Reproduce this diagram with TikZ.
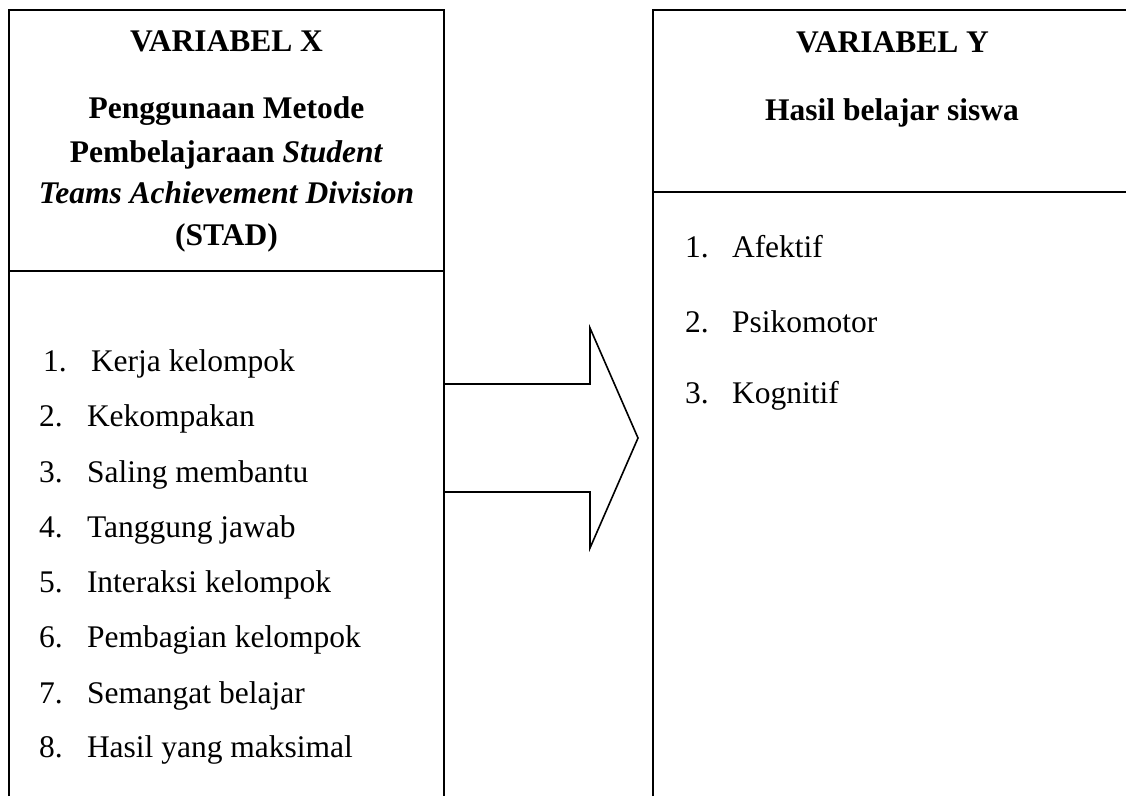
\documentclass[tikz,border=0pt]{standalone}
\usepackage{fontspec}
\setmainfont{Liberation Serif}
\begin{document}
\begin{tikzpicture}[x=1pt,y=-1pt,
  boxline/.style={line width=1.6pt,line join=miter},
  txt/.style={inner sep=0pt,outer sep=0pt,font=\fontsize{31.5}{38}\selectfont},
  hd/.style={txt,anchor=base,font=\fontsize{31.5}{38}\selectfont\bfseries},
  num/.style={txt,anchor=base west},
  item/.style={txt,anchor=base west}]
\useasboundingbox (0,0) rectangle (1126,796);
% left box
\draw[boxline] (9,796) -- (9,10) -- (444,10) -- (444,796);
\draw[boxline] (9,271) -- (444,271);
% right box
\draw[boxline] (653,796) -- (653,10) -- (1126,10);
\draw[boxline] (653,192) -- (1126,192);
% block arrow
\coordinate (aL1) at (444,384);
\coordinate (aL2) at (444,492);
\draw[boxline] (aL1) -- (590,384) -- (590,328) -- (638,438) -- (590,548) -- (590,492) -- (aL2);
% left headings
\node[hd] (vx) at (226.5,51) {VARIABEL X};
\node[hd] (p1) at (226.5,118) {Penggunaan Metode};
\node[hd] (p2) at (226.5,162) {Pembelajaraan \textit{Student}};
\node[hd] (p3) at (226.5,203) {\textit{Teams Achievement Division}};
\node[hd] (p4) at (226.5,245) {(STAD)};
% right headings
\node[hd] (vy) at (892.5,52) {VARIABEL Y};
\node[hd] (hb) at (892,120) {Hasil belajar siswa};
% left list
\node[num] (n1) at (43,371) {1.};
\node[item] (t1) at (91,371) {Kerja kelompok};
\node[num] (n2) at (39,426) {2.};
\node[item] (t2) at (87,426) {Kekompakan};
\node[num] (n3) at (39,482) {3.};
\node[item] (t3) at (87,482) {Saling membantu};
\node[num] (n4) at (39,537) {4.};
\node[item] (t4) at (87,537) {Tanggung jawab};
\node[num] (n5) at (39,592) {5.};
\node[item] (t5) at (87,592) {Interaksi kelompok};
\node[num] (n6) at (39,647) {6.};
\node[item] (t6) at (87,647) {Pembagian kelompok};
\node[num] (n7) at (39,703) {7.};
\node[item] (t7) at (87,703) {Semangat belajar};
\node[num] (n8) at (39,757) {8.};
\node[item] (t8) at (87,757) {Hasil yang maksimal};
% right list
\node[num] (r1) at (685,257) {1.};
\node[item] (s1) at (732,257) {Afektif};
\node[num] (r2) at (685,332) {2.};
\node[item] (s2) at (732,332) {Psikomotor};
\node[num] (r3) at (685,403) {3.};
\node[item] (s3) at (732,403) {Kognitif};
\end{tikzpicture}
\end{document}
